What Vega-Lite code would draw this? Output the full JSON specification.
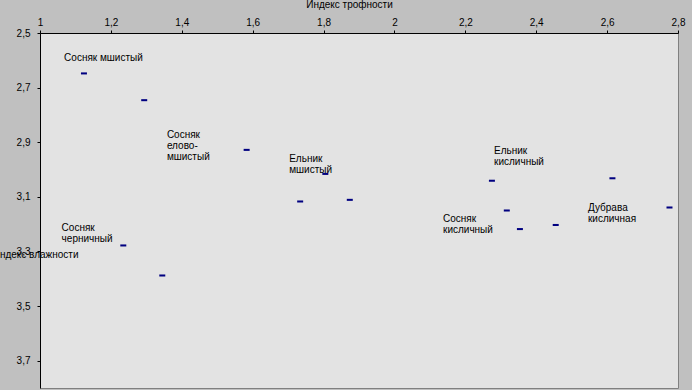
{
  "$schema": "https://vega.github.io/schema/vega-lite/v6.json",
  "autosize": {"type": "none"},
  "width": 638,
  "height": 355,
  "padding": {"left": 40, "top": 33, "right": 14, "bottom": 2},
  "background": "#c0c0c0",
  "config": {
    "view": {"fill": "#e3e3e3", "stroke": "#808080", "strokeWidth": 1},
    "font": "Liberation Sans",
    "axis": {"grid": false, "domainColor": "#000000", "tickColor": "#000000", "labelColor": "#000000", "titleColor": "#000000", "labelFontSize": 10, "titleFontSize": 10, "titleFontWeight": "normal", "tickSize": 3, "labelFont": "Liberation Sans", "titleFont": "Liberation Sans"}
  },
  "datasets": {
    "points": [
      {"trophy": 1.124, "moisture": 2.648},
      {"trophy": 1.294, "moisture": 2.746},
      {"trophy": 1.583, "moisture": 2.928},
      {"trophy": 1.805, "moisture": 3.016},
      {"trophy": 1.734, "moisture": 3.117},
      {"trophy": 1.874, "moisture": 3.111},
      {"trophy": 1.235, "moisture": 3.278},
      {"trophy": 1.345, "moisture": 3.388},
      {"trophy": 2.275, "moisture": 3.041},
      {"trophy": 2.317, "moisture": 3.150},
      {"trophy": 2.354, "moisture": 3.218},
      {"trophy": 2.455, "moisture": 3.203},
      {"trophy": 2.615, "moisture": 3.032},
      {"trophy": 2.776, "moisture": 3.139}
    ],
    "labels": [
      {"trophy": 1.068, "moisture": 2.572, "name": "Сосняк мшистый"},
      {"trophy": 1.358, "moisture": 2.857, "name": "Сосняк\nелово-\nмшистый"},
      {"trophy": 1.703, "moisture": 2.943, "name": "Ельник\nмшистый"},
      {"trophy": 1.061, "moisture": 3.195, "name": "Сосняк\nчерничный"},
      {"trophy": 2.281, "moisture": 2.912, "name": "Ельник\nкисличный"},
      {"trophy": 2.137, "moisture": 3.162, "name": "Сосняк\nкисличный"},
      {"trophy": 2.546, "moisture": 3.122, "name": "Дубрава\nкисличная"}
    ]
  },
  "layer": [
    {
      "data": {"name": "points"},
      "mark": {"type": "point", "shape": "M-1,-0.34H1V0.34H-1Z", "size": 36, "filled": true, "color": "#000080", "opacity": 1},
      "encoding": {
        "x": {
          "field": "trophy", "type": "quantitative",
          "scale": {"domain": [1, 2.8], "zero": false, "nice": false},
          "axis": {"orient": "top", "title": "Индекс трофности", "values": [1, 1.2, 1.4, 1.6, 1.8, 2, 2.2, 2.4, 2.6, 2.8], "labelExpr": "replace(format(datum.value, '~g'), '.', ',')", "labelPadding": 3, "titleX": 309, "titleY": -29, "titleAlign": "center", "titleBaseline": "middle", "labelFlush": false, "labelOverlap": false}
        },
        "y": {
          "field": "moisture", "type": "quantitative",
          "scale": {"domain": [2.5, 3.8], "zero": false, "nice": false, "reverse": true},
          "axis": {"orient": "left", "title": "Индекс влажности", "values": [2.5, 2.7, 2.9, 3.1, 3.3, 3.5, 3.7], "labelExpr": "replace(format(datum.value, '~g'), '.', ',')", "labelPadding": 7, "titleAngle": 0, "titleX": 38, "titleY": 221, "titleAlign": "right", "titleBaseline": "middle", "labelFlush": false, "labelOverlap": false}
        }
      }
    },
    {
      "data": {"name": "labels"},
      "mark": {"type": "text", "align": "left", "baseline": "top", "fontSize": 10, "lineHeight": 11, "color": "#000000", "lineBreak": "\n", "font": "Liberation Sans"},
      "encoding": {
        "x": {"field": "trophy", "type": "quantitative"},
        "y": {"field": "moisture", "type": "quantitative"},
        "text": {"field": "name"}
      }
    }
  ]
}
